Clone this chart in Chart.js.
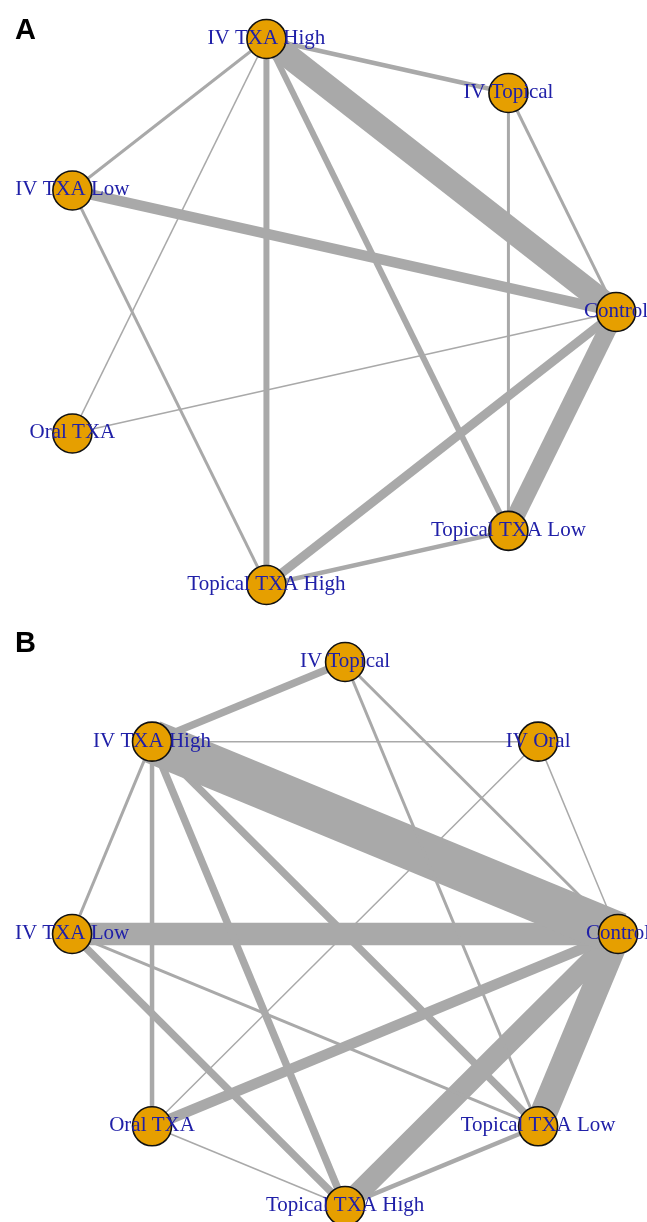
<!DOCTYPE html>
<html><head><meta charset="utf-8">
<script src="https://cdn.jsdelivr.net/npm/chart.js@4.4.1/dist/chart.umd.min.js"></script>
<style>
html,body{margin:0;padding:0;background:#fff;}
.panel{position:relative;width:647px;height:611px;}
</style></head><body>
<div class="panel"><canvas id="chartA"></canvas></div>
<div class="panel"><canvas id="chartB"></canvas></div>
<script>
// ---------- DATA ----------
// Treatments, in circular layout order (counter-clockwise from the right)
const nodesA = ["Control","IV Topical","IV TXA High","IV TXA Low","Oral TXA","Topical TXA High","Topical TXA Low"];
const edgesA = [
  ["IV TXA High","Control"],["IV TXA High","IV Topical"],["IV TXA High","IV TXA Low"],
  ["IV TXA High","Oral TXA"],["IV TXA High","Topical TXA High"],["IV TXA High","Topical TXA Low"],
  ["IV TXA Low","Control"],["IV TXA Low","Topical TXA High"],["IV Topical","Control"],
  ["IV Topical","Topical TXA Low"],["Oral TXA","Control"],["Control","Topical TXA High"],
  ["Control","Topical TXA Low"],["Topical TXA Low","Topical TXA High"]
];
const studiesA = [16,3,2,1,4,4,7,2,2,2,1,6,12,3];

const nodesB = ["Control","IV Oral","IV Topical","IV TXA High","IV TXA Low","Oral TXA","Topical TXA High","Topical TXA Low"];
const edgesB = [
  ["IV Topical","IV TXA High"],["IV Topical","Control"],["IV Topical","Topical TXA Low"],
  ["IV TXA High","IV Oral"],["IV TXA High","Control"],["IV TXA High","IV TXA Low"],
  ["IV TXA High","Oral TXA"],["IV TXA High","Topical TXA High"],["IV TXA High","Topical TXA Low"],
  ["IV Oral","Oral TXA"],["IV Oral","Control"],["IV TXA Low","Control"],
  ["IV TXA Low","Topical TXA High"],["IV TXA Low","Topical TXA Low"],["Oral TXA","Control"],
  ["Oral TXA","Topical TXA High"],["Control","Topical TXA High"],["Control","Topical TXA Low"],
  ["Topical TXA Low","Topical TXA High"]
];
const studiesB = [5,2,2,1,29,2,3,5,5,1,1,15,5,2,7,1,14,18,3];

// ---------- STYLE ----------
const PX_PER_STUDY = 1.5;
const EDGE_COLOR = "#a9a9a9";
const NODE_FILL = "#e69f00";
const LABEL_COLOR = "#2020a8";

function circleLayout(names){
  const n = names.length;
  const pos = {};
  names.forEach((name,i)=>{
    const t = 2*Math.PI*i/n;
    pos[name] = {x:Math.cos(t), y:Math.sin(t)};
  });
  return pos;
}

const labelPlugin = {
  id:"netLabels",
  afterDatasetsDraw(chart, args, opts){
    const ctx = chart.ctx;
    const xs = chart.scales.x, ys = chart.scales.y;
    ctx.save();
    ctx.font = "21px 'Liberation Serif', 'DejaVu Serif', serif";
    ctx.fillStyle = LABEL_COLOR;
    ctx.textAlign = "center";
    ctx.textBaseline = "alphabetic";
    opts.names.forEach(name=>{
      const p = opts.pos[name];
      ctx.fillText(name, xs.getPixelForValue(p.x), ys.getPixelForValue(p.y) + 5);
    });
    ctx.font = "bold 29px 'Liberation Sans', Arial, sans-serif";
    ctx.fillStyle = "#000";
    ctx.textAlign = "left";
    ctx.fillText(opts.letter, 15, opts.letterY);
    ctx.restore();
  }
};

function makeNet(canvasId, names, edges, studies, letter, letterY, xr, yr){
  const pos = circleLayout(names);
  const datasets = edges.map((e,i)=>({
    type:"scatter",
    data:[pos[e[0]], pos[e[1]]],
    showLine:true,
    borderColor:EDGE_COLOR,
    borderWidth:studies[i]*PX_PER_STUDY,
    borderCapStyle:"butt",
    pointRadius:0,
    order:1,
    clip:false
  }));
  datasets.push({
    type:"scatter",
    data:names.map(n=>pos[n]),
    showLine:false,
    pointRadius:19.5,
    pointBackgroundColor:NODE_FILL,
    pointBorderColor:"#111",
    pointBorderWidth:1.6,
    order:0,
    clip:false
  });
  new Chart(document.getElementById(canvasId), {
    type:"scatter",
    data:{datasets},
    options:{
      responsive:true,
      maintainAspectRatio:false,
      animation:false,
      events:[],
      layout:{padding:0, autoPadding:false},
      plugins:{legend:{display:false}, tooltip:{enabled:false},
        netLabels:{names, pos, letter, letterY}},
      scales:{
        x:{type:"linear", display:false, min:xr[0], max:xr[1]},
        y:{type:"linear", display:false, min:yr[0], max:yr[1]}
      }
    },
    plugins:[labelPlugin]
  });
}

makeNet("chartA", nodesA, edgesA, studiesA, "A", 39, [-1.154, 1.108], [-1.068, 1.114]);
makeNet("chartB", nodesB, edgesB, studiesB, "B", 41, [-1.264, 1.106], [-1.059, 1.1875]);
</script>
</body></html>
